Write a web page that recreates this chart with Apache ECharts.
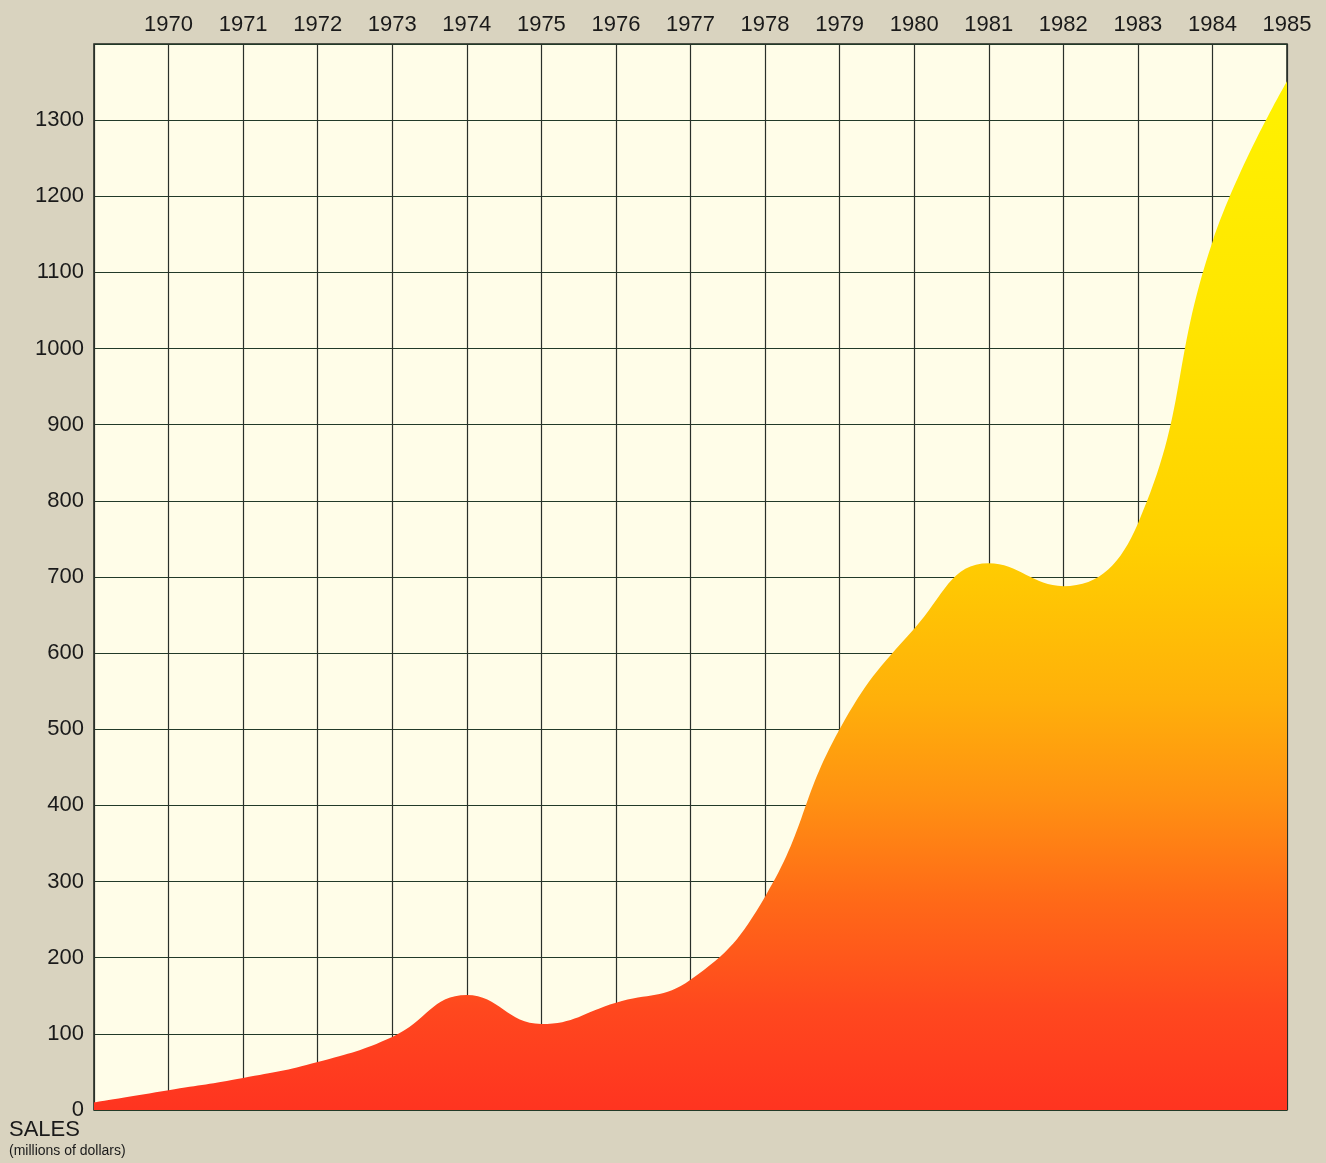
<!DOCTYPE html>
<html>
<head>
<meta charset="utf-8">
<script src="https://cdn.jsdelivr.net/npm/echarts@6/dist/echarts.min.js"></script>
<style>
html,body{margin:0;padding:0;background:#d9d3bf;}
#chart{width:1326px;height:1163px;}
</style>
</head>
<body>
<div id="chart"></div>
<script>
const years = ['1969','1970','1971','1972','1973','1974','1975','1976','1977','1978','1979','1980','1981','1982','1983','1984','1985'];
const sales = [10, 26, 42, 63, 96, 151, 113, 141, 171, 280, 500, 632, 718, 688, 770, 1140, 1351];
const yTicks = { min: 0, max: 1400, step: 100 };
const yTitle = 'SALES';
const ySubtitle = '(millions of dollars)';

const chart = echarts.init(document.getElementById('chart'));
chart.setOption({
  backgroundColor: '#d9d3bf',
  animation: false,
  textStyle: { fontFamily: 'Liberation Sans, Arial, sans-serif' },
  grid: {
    left: 94, right: 39, top: 44, bottom: 53,
    show: true, backgroundColor: '#fffde8', borderColor: '#1e261e', borderWidth: 1.5
  },
  graphic: [
    { type: 'text', left: 9, top: 1119, style: { text: yTitle, fontSize: 22, fill: '#1a1a1a', fontFamily: 'Liberation Sans, Arial, sans-serif' } },
    { type: 'text', left: 9, top: 1144, style: { text: ySubtitle, fontSize: 14, fill: '#1a1a1a', fontFamily: 'Liberation Sans, Arial, sans-serif' } }
  ],
  xAxis: {
    type: 'category',
    data: years,
    boundaryGap: false,
    position: 'top',
    axisLine: { show: false },
    axisTick: { show: false },
    axisLabel: {
      fontSize: 22, color: '#1a1a1a', margin: 8, interval: 0,
      formatter: v => v === years[0] ? '' : v
    },
    splitLine: { show: true, lineStyle: { color: '#2a302a', width: 1.2 } }
  },
  yAxis: {
    type: 'value',
    min: yTicks.min, max: yTicks.max, interval: yTicks.step,
    axisLine: { show: false },
    axisTick: { show: false },
    axisLabel: {
      fontSize: 22, color: '#1a1a1a', margin: 10,
      padding: [0, 0, 12, 0],
      formatter: v => v === yTicks.max ? '' : String(v)
    },
    splitLine: { show: true, lineStyle: { color: '#223a28', width: 1.2 } }
  },
  series: [{
    type: 'line',
    data: sales,
    smooth: 0.45,
    symbol: 'none',
    lineStyle: { width: 0 },
    areaStyle: {
      opacity: 1,
      color: {
        type: 'linear', x: 0, y: 0, x2: 0, y2: 1,
        colorStops: [
          { offset: 0, color: '#fff200' },
          { offset: 0.22, color: '#ffe600' },
          { offset: 0.45, color: '#ffd000' },
          { offset: 0.6, color: '#ffb00a' },
          { offset: 0.7, color: '#ff9012' },
          { offset: 0.8, color: '#ff6818' },
          { offset: 0.9, color: '#ff481e' },
          { offset: 1, color: '#ff3420' }
        ]
      }
    }
  }]
});
</script>
</body>
</html>
